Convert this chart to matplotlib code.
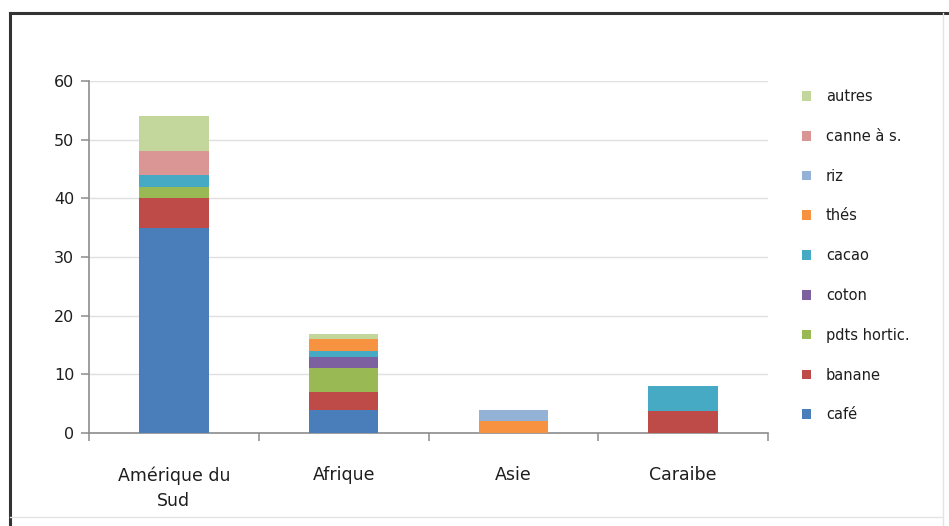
import matplotlib
matplotlib.use("Agg")
import matplotlib.pyplot as plt
from matplotlib.lines import Line2D
from matplotlib.patches import Patch
import numpy as np

plt.rcParams['font.family'] = ['DejaVu Sans']

categories = ["Amérique du\nSud", "Afrique", "Asie", "Caraibe"]
series_names = ["café", "banane", "pdts hortic.", "coton", "cacao", "thés", "riz", "canne à s.", "autres"]
cafe = [35, 4, 0, 0]
banane = [5, 3, 0, 3.7]
pdts_hortic = [2, 4, 0, 0]
coton = [0, 2, 0, 0]
cacao = [2, 1, 0, 4.3]
thes = [0, 2, 2, 0]
riz = [0, 0, 2, 0]
canne = [4, 0, 0, 0]
autres = [6, 0.8, 0, 0]
yticks = [0, 10, 20, 30, 40, 50, 60]

series = [cafe, banane, pdts_hortic, coton, cacao, thes, riz, canne, autres]
colors = ["#4A7EBB", "#BE4B48", "#98B954", "#7D60A0", "#46AAC5",
          "#F69240", "#94B1D6", "#D99694", "#C3D69B"]

W, H = 949, 526
fig = plt.figure(figsize=(W / 100, H / 100), dpi=100)
ax = fig.add_axes([89 / W, (H - 433) / H, (768 - 89) / W, (433 - 81) / H])

x = np.arange(len(categories))
bottom = np.zeros(len(categories))
for vals, col, name in zip(series, colors, series_names):
    v = np.array(vals, dtype=float)
    ax.bar(x, v, width=0.41, bottom=bottom, color=col, label=name, zorder=3)
    bottom += v

ax.set_xlim(-0.5, len(categories) - 0.5)
ax.set_ylim(0, 60)
ax.set_yticks(yticks)
ax.yaxis.grid(True, color="#E0E0E0", linewidth=1, zorder=0)
for s in ["top", "right"]:
    ax.spines[s].set_visible(False)
for s in ["left", "bottom"]:
    ax.spines[s].set_color("#8C8C8C")
    ax.spines[s].set_linewidth(1.2)

ax.tick_params(axis='y', direction='out', length=5.5, width=1.1, color="#8C8C8C",
               labelsize=11.5, labelcolor="#1E1E1E", pad=5)
ax.set_xticks(x)
ax.set_xticklabels(categories, fontsize=12.5, color="#1E1E1E", linespacing=1.5)
ax.tick_params(axis='x', which='major', length=0, pad=24)
ax.set_xticks(np.arange(-0.5, len(categories)), minor=True)
ax.tick_params(axis='x', which='minor', direction='out', length=6, width=1.1, color="#8C8C8C")

handles = [Patch(facecolor=c, edgecolor='none') for c in colors][::-1]
labels = series_names[::-1]
fig.legend(handles, labels, loc='upper left', bbox_to_anchor=(802 / W, (H - 89) / H),
           frameon=False, fontsize=10.5, handlelength=0.65, handleheight=0.65,
           handletextpad=1.0, labelspacing=1.7, borderpad=0, borderaxespad=0,
           labelcolor="#1E1E1E")

# chart frame
fig.add_artist(Line2D([10 / W, 1], [(H - 13) / H] * 2, color="#333333", linewidth=2.2))
fig.add_artist(Line2D([10 / W] * 2, [0, (H - 13) / H], color="#333333", linewidth=2.2))
fig.add_artist(Line2D([943 / W] * 2, [0, (H - 13) / H], color="#E4E4E4", linewidth=1))
fig.add_artist(Line2D([10 / W, 943 / W], [(H - 517) / H] * 2, color="#E4E4E4", linewidth=1))

fig.savefig("out.png", dpi=100)
